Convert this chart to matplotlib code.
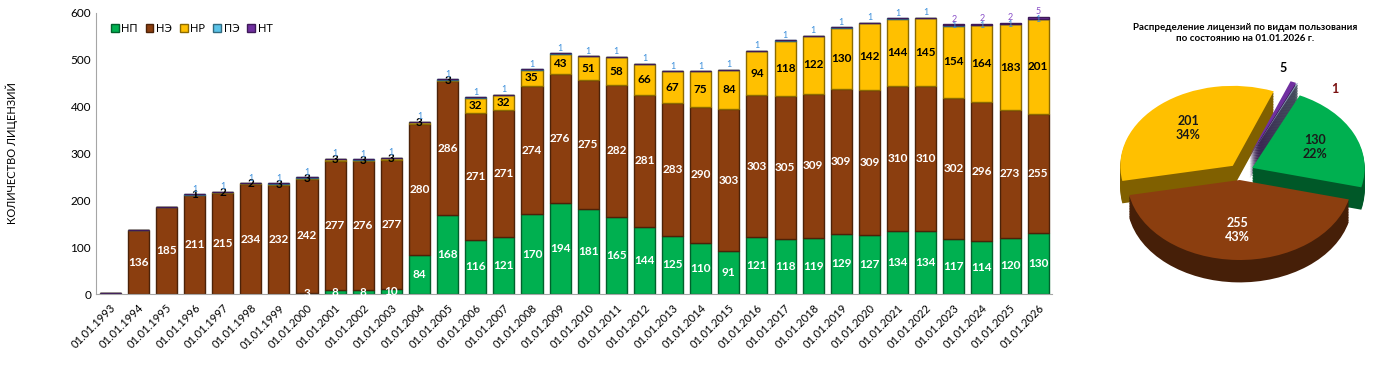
import numpy as np
import matplotlib
matplotlib.use('Agg')
import matplotlib.pyplot as plt
from matplotlib.colors import to_rgb

plt.rcParams['font.family'] = ['Lato', 'Open Sans', 'DejaVu Sans']

# ---- data ----
years = list(range(1993, 2027))
labels = ['01.01.%d' % y for y in years]

np_vals = [0, 0, 0, 0, 0, 0, 0, 3, 8, 8, 10, 84, 168, 116, 121, 170, 194, 181, 165,
           144, 125, 110, 91, 121, 118, 119, 129, 127, 134, 134, 117, 114, 120, 130]
ne_vals = [2, 136, 185, 211, 215, 234, 232, 242, 277, 276, 277, 280, 286, 271, 271,
           274, 276, 275, 282, 281, 283, 290, 303, 303, 305, 309, 309, 309, 310, 310,
           302, 296, 273, 255]
nr_vals = [0, 0, 0, 1, 2, 2, 3, 3, 3, 3, 3, 3, 3, 32, 32, 35, 43, 51, 58, 66, 67, 75,
           84, 94, 118, 122, 130, 142, 144, 145, 154, 164, 183, 201]
pe_vals = [0, 0, 0, 1, 1, 1, 1, 1, 1, 1, 1, 1, 1, 1, 1, 1, 1, 1, 1, 1, 1, 1, 1, 1, 1,
           1, 1, 1, 1, 1, 1, 1, 1, 1]
nt_vals = [0] * 30 + [2, 2, 2, 5]

series_names = ['НП', 'НЭ', 'НР', 'ПЭ', 'НТ']
colors = ['#00B050', '#8B3E0F', '#FFC000', '#5BC3E8', '#7030A0']
text_colors = ['white', 'white', 'black', '#3C8FDB', '#8A50C8']

pie_names = ['НП', 'НЭ', 'НР', 'НТ', 'ПЭ']
pie_vals = [130, 255, 201, 5, 1]
pie_colors = ['#00B050', '#8B3E0F', '#FFC000', '#7030A0', '#8AA2BC']
pie_title = 'Распределение лицензий по видам пользования\nпо состоянию на 01.01.2026 г.'


def darker(c, f=0.55):
    r, g, b = to_rgb(c)
    return (r * f, g * f, b * f)


fig = plt.figure(figsize=(14, 3.69), dpi=100)

# ---- stacked bars ----
ax = fig.add_axes([0.0686, 0.203, 0.683, 0.762])
x = np.arange(len(years))
data = [np_vals, ne_vals, nr_vals, pe_vals, nt_vals]
bottom = np.zeros(len(years))
for i, vals in enumerate(data):
    vals = np.array(vals, dtype=float)
    ax.bar(x, vals, 0.75, bottom=bottom, color=colors[i], edgecolor=darker(colors[i]),
           linewidth=1.0, label=series_names[i], zorder=2)
    for k, v in enumerate(vals):
        if v <= 0 or (i == 1 and years[k] == 1993):
            continue
        if i < 3:
            ax.text(x[k], bottom[k] + v / 2, '%d' % v, ha='center', va='center',
                    color=text_colors[i], fontsize=8.5, fontweight='bold', zorder=3)
        elif i == 3:
            if nt_vals[k] > 0:
                ax.text(x[k], bottom[k] + v - 1, '%d' % v, ha='center', va='center',
                        color=text_colors[i], fontsize=6.5, zorder=3)
            else:
                ax.text(x[k], bottom[k] + v + 1, '%d' % v, ha='center', va='bottom',
                        color=text_colors[i], fontsize=6.5, zorder=3)
        else:
            ax.text(x[k], bottom[k] + v + 1, '%d' % v, ha='center', va='bottom',
                    color=text_colors[i], fontsize=6.5, zorder=3)
    bottom += vals

ax.set_xlim(-0.5, len(years) - 0.5)
ax.set_ylim(0, 600)
ax.set_yticks(range(0, 601, 100))
ax.set_xticks(x)
ax.set_xticklabels(labels, rotation=45, ha='right', rotation_mode='anchor', fontsize=8)
ax.tick_params(axis='both', length=0, labelsize=8.5)
ax.tick_params(axis='x', pad=6, labelsize=8)
for s in ['top', 'right']:
    ax.spines[s].set_visible(False)
for s in ['left', 'bottom']:
    ax.spines[s].set_color('#A6A6A6')
ax.set_ylabel('КОЛИЧЕСТВО ЛИЦЕНЗИЙ', fontsize=8)
ax.yaxis.set_label_coords(-0.082, 0.5)
ax.legend(loc='upper left', bbox_to_anchor=(0.005, 1.0), ncol=5, frameon=False,
          fontsize=8, handlelength=0.7, handleheight=0.7, handletextpad=0.25,
          columnspacing=0.7)

# ---- 3D-looking pie ----
pax = fig.add_axes([1105 / 1400, 1 - 300 / 369, 270 / 1400, 240 / 369])
explode = [0.12, 0.1, 0.1, 0.22, 0.22]
start = 65
depth = 0.28
steps = 14
for j in range(steps, 0, -1):
    pax.pie(pie_vals, colors=[darker(c, 0.5) for c in pie_colors], explode=explode,
            startangle=start, counterclock=False, center=(0, -depth * j / steps),
            wedgeprops=dict(linewidth=0))


def fmt(p):
    v = p * sum(pie_vals) / 100.0
    if v < 10:
        return ''
    return '%d\n%d%%' % (round(v), round(p))


wedges, texts, autotexts = pax.pie(pie_vals, colors=pie_colors, explode=explode,
                                   startangle=start, counterclock=False, autopct=fmt,
                                   pctdistance=0.62, labels=['', '', '', '5', '1'],
                                   labeldistance=1.25, wedgeprops=dict(linewidth=0),
                                   textprops=dict(fontsize=9, fontweight='bold'))
pie_txt = ['#1A1A1A', 'white', '#1A1A1A', 'black', '#7A1010']
for t, c in zip(autotexts, pie_txt):
    t.set_color(c)
for t, c in zip(texts, pie_txt):
    t.set_color(c)
# separate the two small outside labels
tx, ty = texts[3].get_position()
texts[3].set_position((tx - 0.22, ty - 0.05))
tx, ty = texts[4].get_position()
texts[4].set_position((tx + 0.2, ty - 0.3))
pax.set_aspect('auto')
pax.set_xlim(-1.2, 1.2)
pax.set_ylim(-1.6, 1.4)

fig.text(1245 / 1400, 1 - 33 / 369, pie_title, ha='center', va='center',
         fontsize=7, fontweight='bold')

fig.savefig('out.png', dpi=100)
